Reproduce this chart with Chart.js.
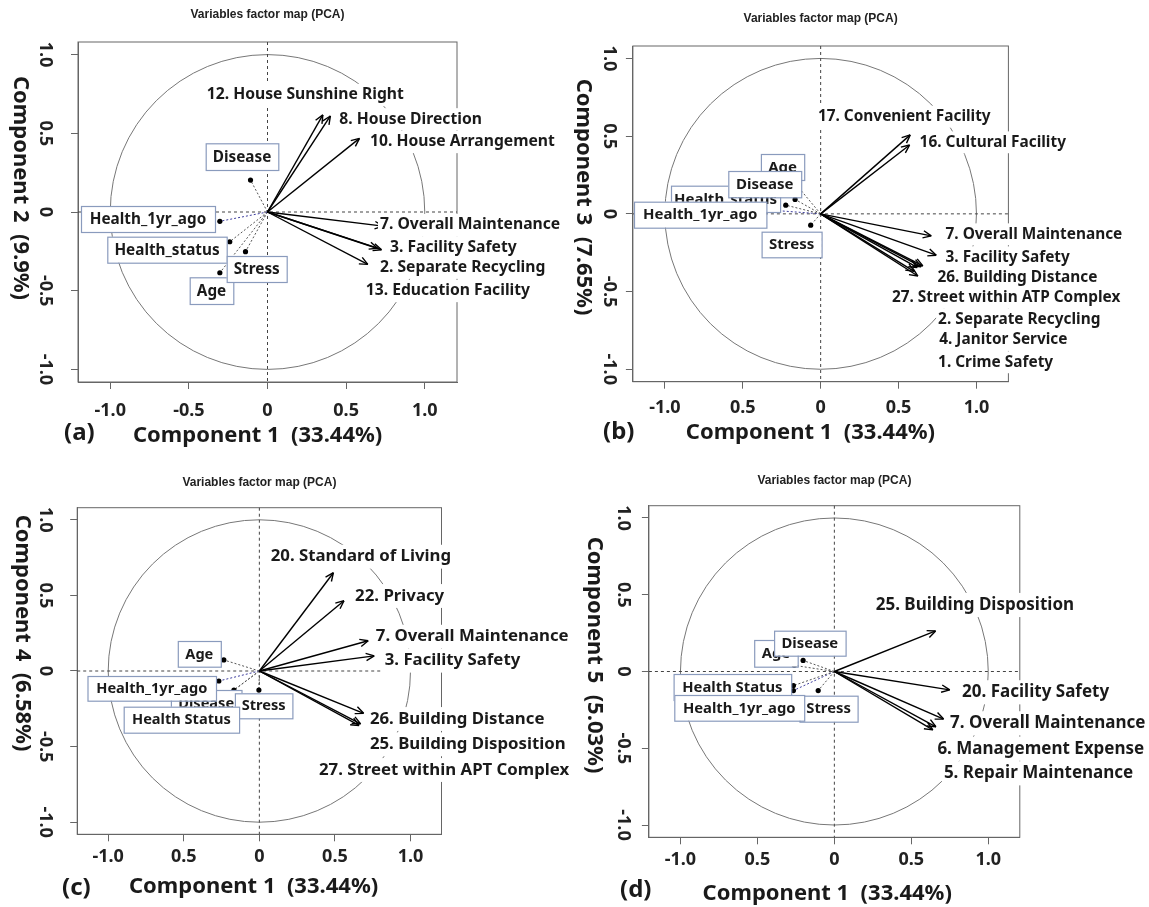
<!DOCTYPE html>
<html><head><meta charset="utf-8">
<script src="https://cdn.jsdelivr.net/npm/chart.js@4.4.1/dist/chart.umd.min.js"></script>
<style>
html,body{margin:0;padding:0;background:#fff;}
body{width:1149px;height:907px;position:relative;overflow:hidden;}
canvas{position:absolute;}
</style></head><body>
<canvas id="pa"></canvas><canvas id="pb"></canvas><canvas id="pc"></canvas><canvas id="pd"></canvas>
<script>
// ================= DATA =================
const tickValues = [-1, -0.5, 0, 0.5, 1];
const xTickLabelsA = ['-1.0', '-0.5', '0', '0.5', '1.0'];
const xTickLabelsBCD = ['-1.0', '0.5', '0', '0.5', '1.0'];
const yTickLabels = ['-1.0', '-0.5', '0', '0.5', '1.0'];
const chartTitle = 'Variables factor map (PCA)';
const xAxisTitle = 'Component 1  (33.44%)';

// (a) Component 1 vs Component 2
const varsA = ['12. House Sunshine Right', '8. House Direction', '10. House Arrangement', '7. Overall Maintenance', '3. Facility Safety', '13. Education Facility', '2. Separate Recycling'];
const varsA_x = [0.352, 0.40, 0.585, 0.735, 0.725, 0.70, 0.638];
const varsA_y = [0.617, 0.61, 0.468, -0.09, -0.24, -0.23, -0.333];
const suppA = ['Disease', 'Health_1yr_ago', 'Health_status', 'Age', 'Stress'];
const suppA_x = [-0.108, -0.303, -0.24, -0.303, -0.14];
const suppA_y = [0.203, -0.059, -0.189, -0.386, -0.252];

// (b) Component 1 vs Component 3
const varsB = ['17. Convenient Facility', '16. Cultural Facility', '7. Overall Maintenance', '3. Facility Safety', '26. Building Distance', '27. Street within ATP Complex', '2. Separate Recycling', '4. Janitor Service', '1. Crime Safety'];
const varsB_x = [0.575, 0.571, 0.71, 0.742, 0.656, 0.60, 0.645, 0.62, 0.624];
const varsB_y = [0.508, 0.443, -0.142, -0.266, -0.335, -0.37, -0.34, -0.345, -0.40];
const suppB = ['Health_status', 'Health_1yr_ago', 'Age', 'Disease', 'Stress'];
const suppB_x = [-0.224, -0.323, -0.159, -0.164, -0.064];
const suppB_y = [0.056, 0.024, 0.19, 0.093, -0.073];

// (c) Component 1 vs Component 4
const varsC = ['20. Standard of Living', '22. Privacy', '7. Overall Maintenance', '3. Facility Safety', '26. Building Distance', '25. Building Disposition', '27. Street within APT Complex'];
const varsC_x = [0.49, 0.56, 0.72, 0.76, 0.69, 0.67, 0.66];
const varsC_y = [0.65, 0.465, 0.20, 0.10, -0.28, -0.35, -0.36];
const suppC = ['Disease', 'Stress', 'Health_1yr_ago', 'Health Status', 'Age'];
const suppC_x = [-0.168, -0.003, -0.268, -0.20, -0.235];
const suppC_y = [-0.126, -0.126, -0.066, -0.15, 0.073];

// (d) Component 1 vs Component 5
const varsD = ['25. Building Disposition', '20. Facility Safety', '7. Overall Maintenance', '6. Management Expense', '5. Repair Maintenance'];
const varsD_x = [0.658, 0.75, 0.71, 0.66, 0.64];
const varsD_y = [0.264, -0.12, -0.31, -0.36, -0.38];
const suppD = ['Age', 'Disease', 'Health Status', 'Stress', 'Health_1yr_ago'];
const suppD_x = [-0.26, -0.203, -0.266, -0.105, -0.266];
const suppD_y = [0.04, 0.072, -0.092, -0.124, -0.124];

// ================= LAYOUT (page pixels) =================
const X_LIM = 1.205, Y_LIM = 1.08, TICK_LEN = 7;
const PANELS = [
 {id:'pa', letter:'(a)', yTitle:'Component 2  (9.9%)', vars:varsA, vx:varsA_x, vy:varsA_y, supp:suppA, sx:suppA_x, sy:suppA_y, xTicks:xTickLabelsA,
  canvas:{left:0, top:0, w:574, h:453}, box:{L:78, T:42, R:457, B:382},
  title:{x:267.5, y:15}, yT:{x:20, y:188}, yTickX:45, xTickY:410.7, xT:{x:133, y:436}, let:{x:64, y:433},
  fs:{label:15.7, box:15.3, tick:18, axis:22},
  labelPos:[[206.7,95],[339.3,119.3],[370,142],[380,225],[390,247.3],[365.7,291],[380,267.7]],
  boxPos:[[205.7,143.3,278.3,170],[81,206,215,232],[107.3,236.7,226.7,262.7],[189.7,277.3,233.3,304],[226.7,256,286.7,282]]},
 {id:'pb', letter:'(b)', yTitle:'Component 3  (7.65%)', vars:varsB, vx:varsB_x, vy:varsB_y, supp:suppB, sx:suppB_x, sy:suppB_y, xTicks:xTickLabelsBCD,
  canvas:{left:574, top:0, w:552, h:453}, box:{L:632.9, T:46, R:1008.4, B:381.7},
  title:{x:820.6, y:19}, yT:{x:583, y:197}, yTickX:608.8, xTickY:408.3, xT:{x:685.8, y:432.3}, let:{x:603, y:431.7},
  fs:{label:15.4, box:15, tick:18, axis:22},
  labelPos:[[817.9,116.7],[919.6,142.3],[945.5,234.3],[945.5,257.3],[937.4,277.7],[891.9,297.7],[938.1,319.3],[939.2,340],[938.1,362.3]],
  boxPos:[[671,185.7,780.1,212],[634,201.7,766.4,227.7],[760.9,154,804.2,180],[728.3,171,801.2,197.3],[761.6,231.7,821.6,257.3]]},
 {id:'pc', letter:'(c)', yTitle:'Component 4  (6.58%)', vars:varsC, vx:varsC_x, vy:varsC_y, supp:suppC, sx:suppC_x, sy:suppC_y, xTicks:xTickLabelsBCD,
  canvas:{left:0, top:453, w:580, h:454}, box:{L:77.2, T:507.7, R:441.5, B:834.3},
  title:{x:259.4, y:483}, yT:{x:22, y:633}, yTickX:45, xTickY:856.7, xT:{x:128.9, y:887}, let:{x:62, y:887.7},
  fs:{label:16.8, box:14.6, tick:18, axis:22},
  labelPos:[[270.7,556.7],[355.1,596],[375.8,636.7],[384.7,660.7],[369.9,719],[369.9,744.3],[319,770]],
  boxPos:[[170.9,690,241.5,716],[234.9,693.3,292.4,718.3],[87.5,676,216,700.7],[123.7,706.7,239.1,732.7],[177.8,641,220.8,666.7]]},
 {id:'pd', letter:'(d)', yTitle:'Component 5  (5.03%)', vars:varsD, vx:varsD_x, vy:varsD_y, supp:suppD, sx:suppD_x, sy:suppD_y, xTicks:xTickLabelsBCD,
  canvas:{left:574, top:453, w:575, h:454}, box:{L:648.9, T:505.7, R:1019.8, B:837.3},
  title:{x:834.4, y:480.7}, yT:{x:594.5, y:655}, yTickX:623.5, xTickY:860, xT:{x:702.6, y:893.3}, let:{x:620, y:890},
  fs:{label:17, box:14.8, tick:18, axis:22},
  labelPos:[[875.7,605],[962.1,692.3],[950.1,723.3],[937.4,748.7],[943.9,773.3]],
  boxPos:[[754.2,640,797.7,666.7],[774.1,630.7,845.6,655.7],[673.6,674,791.2,700],[799.5,695.7,857.6,721.7],[674.3,695,804.2,720.7]]}
];

const FONT = '"Noto Sans", "DejaVu Sans", sans-serif';
function txt(ctx, s, x, y, font, align, rot, color){
  ctx.save(); ctx.translate(x, y); if (rot) ctx.rotate(rot);
  ctx.font = font; ctx.textAlign = align || 'left'; ctx.textBaseline = 'middle';
  ctx.fillStyle = color || '#1a1a1a'; ctx.fillText(s, 0, 0); ctx.restore();
}
function arrowHead(ctx, x0, y0, x1, y1, len, ang){
  const a = Math.atan2(y1 - y0, x1 - x0);
  ctx.beginPath();
  ctx.moveTo(x1, y1); ctx.lineTo(x1 - len*Math.cos(a - ang), y1 - len*Math.sin(a - ang));
  ctx.moveTo(x1, y1); ctx.lineTo(x1 - len*Math.cos(a + ang), y1 - len*Math.sin(a + ang));
  ctx.stroke();
}

function makePanel(P){
  const cv = document.getElementById(P.id);
  cv.width = P.canvas.w; cv.height = P.canvas.h;
  cv.style.left = P.canvas.left + 'px'; cv.style.top = P.canvas.top + 'px';
  cv.style.width = P.canvas.w + 'px'; cv.style.height = P.canvas.h + 'px';
  const cx = P.canvas.left, cy = P.canvas.top, b = P.box;
  const datasets = [];
  P.vars.forEach((name, i) => datasets.push({kind:'arrow', label:name,
    data:[{x:0, y:0}, {x:P.vx[i], y:P.vy[i]}], showLine:true, borderColor:'#000', borderWidth:1.4, pointRadius:0}));
  P.supp.forEach((name, i) => datasets.push({kind:'supp', label:name,
    data:[{x:0, y:0}, {x:P.sx[i], y:P.sy[i]}], showLine:true,
    borderColor: name === 'Health_1yr_ago' ? '#3d3d9e' : '#555', borderWidth:1, borderDash:[2,2],
    pointRadius:[0, 2.6], pointBackgroundColor:'#000', pointBorderColor:'#000', pointBorderWidth:0}));

  const axisCommon = {
    type:'linear', ticks:{display:false},
    grid:{drawOnChartArea:false, drawTicks:true, tickLength:TICK_LEN, color:'#666', tickColor:'#666', tickWidth:1},
    border:{display:true, color:'#666', width:1},
    afterBuildTicks: s => { s.ticks = tickValues.map(v => ({value:v})); }
  };

  const bgPlugin = {
    id:'bg'+P.id,
    beforeDatasetsDraw(chart){
      const ctx = chart.ctx, a = chart.chartArea, xs = chart.scales.x, ys = chart.scales.y;
      const x0 = xs.getPixelForValue(0), y0 = ys.getPixelForValue(0);
      ctx.save();
      ctx.strokeStyle = '#666'; ctx.lineWidth = 1;
      ctx.strokeRect(a.left, a.top, a.right - a.left, a.bottom - a.top);
      // unit circle (correlation circle)
      ctx.strokeStyle = '#777';
      ctx.beginPath();
      ctx.ellipse(x0, y0, xs.getPixelForValue(1) - x0, y0 - ys.getPixelForValue(1), 0, 0, Math.PI*2);
      ctx.stroke();
      // zero reference lines
      ctx.strokeStyle = '#444'; ctx.setLineDash([3, 3]);
      ctx.beginPath(); ctx.moveTo(x0, a.top); ctx.lineTo(x0, a.bottom); ctx.stroke();
      ctx.beginPath(); ctx.moveTo(a.left, y0); ctx.lineTo(a.right, y0); ctx.stroke();
      ctx.restore();
    },
    afterDatasetsDraw(chart){
      const ctx = chart.ctx;
      ctx.save();
      ctx.strokeStyle = '#000'; ctx.lineWidth = 1.4;
      chart.data.datasets.forEach((ds, i) => {
        if (ds.kind !== 'arrow') return;
        const m = chart.getDatasetMeta(i).data;
        arrowHead(ctx, m[0].x, m[0].y, m[1].x, m[1].y, 9, 0.42);
      });
      // variable labels with white background
      const lf = 'bold ' + P.fs.label + 'px ' + FONT;
      ctx.font = lf;
      P.vars.forEach((name, i) => {
        const x = P.labelPos[i][0] - cx, y = P.labelPos[i][1] - cy;
        const w = ctx.measureText(name).width, h = P.fs.label * 1.42;
        ctx.fillStyle = '#fff'; ctx.fillRect(x - 2, y - h/2, w + 4, h);
        txt(ctx, name, x, y, lf, 'left', 0, '#1a1a1a');
      });
      // supplementary variable boxes
      const bf = 'bold ' + P.fs.box + 'px ' + FONT;
      P.supp.forEach((name, i) => {
        const [l, t, r, bt] = P.boxPos[i];
        const x = l - cx, y = t - cy, w = r - l, h = bt - t;
        ctx.fillStyle = '#fff'; ctx.fillRect(x, y, w, h);
        ctx.strokeStyle = '#8a9bbd'; ctx.lineWidth = 1.2; ctx.strokeRect(x + 0.5, y + 0.5, w, h);
        txt(ctx, name, x + w/2, y + h/2 + 0.5, bf, 'center', 0, '#1a1a1a');
      });
      ctx.restore();
    },
    afterDraw(chart){
      const ctx = chart.ctx, xs = chart.scales.x, ys = chart.scales.y;
      txt(ctx, chartTitle, P.title.x - cx, P.title.y - cy, 'bold 12px "Liberation Sans", Arial, sans-serif', 'center', 0, '#222');
      const tf = 'bold ' + P.fs.tick + 'px ' + FONT;
      tickValues.forEach((v, i) => {
        txt(ctx, P.xTicks[i], xs.getPixelForValue(v), P.xTickY - cy, tf, 'center', 0, '#222');
        txt(ctx, yTickLabels[i], P.yTickX - cx, ys.getPixelForValue(v), tf, 'center', Math.PI/2, '#222');
      });
      const af = 'bold ' + P.fs.axis + 'px ' + FONT;
      txt(ctx, P.yTitle, P.yT.x - cx, P.yT.y - cy, af, 'center', Math.PI/2, '#1a1a1a');
      txt(ctx, xAxisTitle, P.xT.x - cx, P.xT.y - cy, af, 'left', 0, '#1a1a1a');
      txt(ctx, P.letter, P.let.x - cx, P.let.y - cy, 'bold 24px ' + FONT, 'left', 0, '#1a1a1a');
    }
  };

  new Chart(cv, {
    type:'scatter',
    data:{datasets},
    options:{
      responsive:false, animation:false, events:[],
      layout:{padding:{left:b.L - cx - TICK_LEN, top:b.T - cy, right:cx + P.canvas.w - b.R, bottom:cy + P.canvas.h - b.B - TICK_LEN}},
      plugins:{legend:{display:false}, tooltip:{enabled:false}, title:{display:false}},
      scales:{
        x:Object.assign({}, axisCommon, {position:'bottom', min:-X_LIM, max:X_LIM, afterFit: s => { s.height = TICK_LEN; }}),
        y:Object.assign({}, axisCommon, {position:'left', min:-Y_LIM, max:Y_LIM, afterFit: s => { s.width = TICK_LEN; }})
      }
    },
    plugins:[bgPlugin]
  });
}
PANELS.forEach(makePanel);
</script>
</body></html>
